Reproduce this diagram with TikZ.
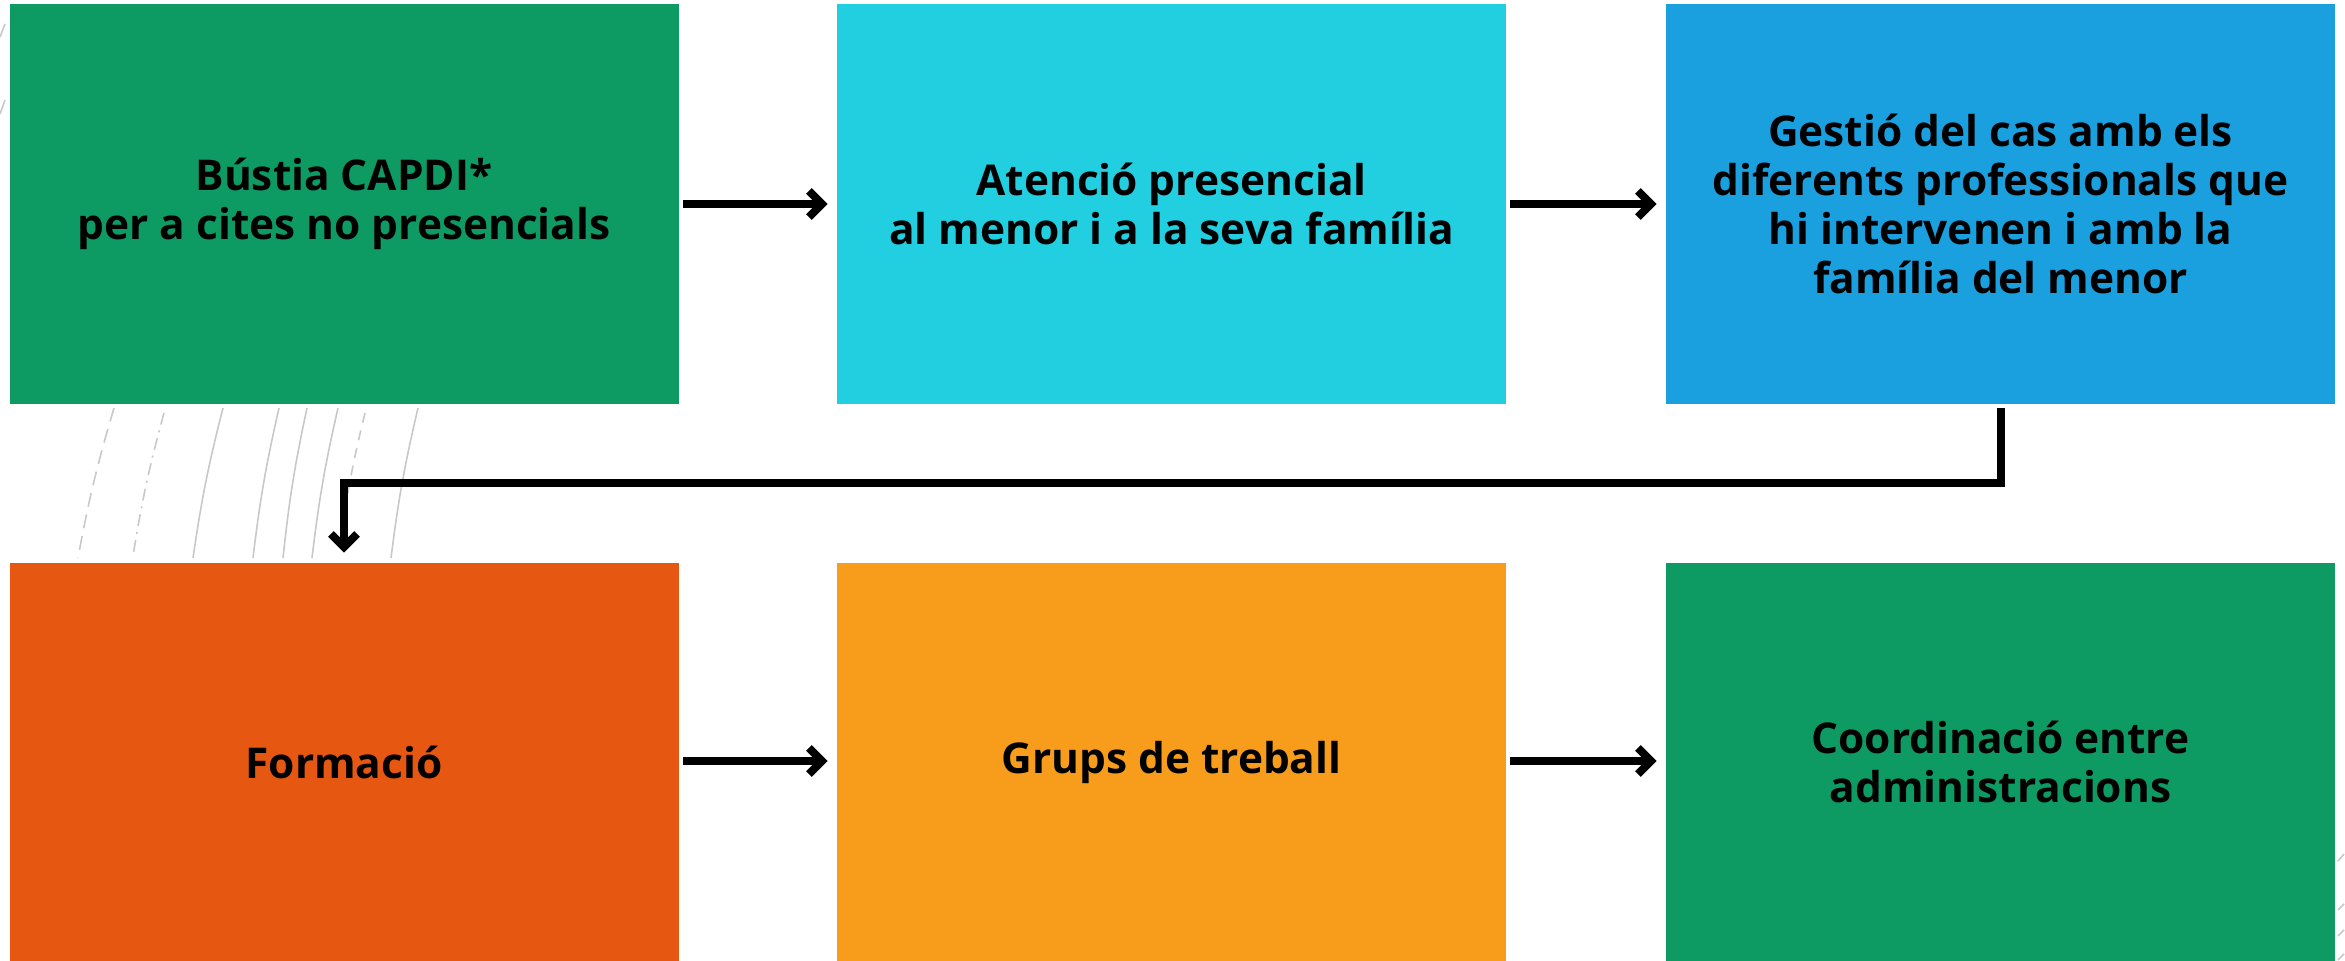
\documentclass[tikz,border=0pt]{standalone}
\usepackage{fontspec}
\setmainfont{Open Sans}
\usetikzlibrary{arrows.meta}
\definecolor{cgreen}{HTML}{0E9A63}
\definecolor{ccyan}{HTML}{22CFE0}
\definecolor{cblue}{HTML}{1A9FDF}
\definecolor{corange}{HTML}{E65812}
\definecolor{cyellow}{HTML}{F79D1B}
\definecolor{arcgray}{HTML}{C8C8C8}
\tikzset{
  stepbox/.style={inner sep=0pt, minimum width=334.5pt, align=center,
    font=\bfseries\fontsize{21.2pt}{24.5pt}\selectfont, text=black},
  toprow/.style={stepbox, minimum height=200pt},
  botrow/.style={stepbox, minimum height=199pt},
  conn/.style={line width=4pt, draw=black, line join=miter,
    -{Straight Barb[length=6.5pt,width=13pt,line width=4pt]}},
  arcline/.style={draw=arcgray, line width=0.8pt},
}
\begin{document}
\begin{tikzpicture}[x=0.5pt,y=-0.5pt]
\useasboundingbox (0,0) rectangle (2345,961);
% decorative background arcs
\draw[arcline, dash pattern=on 7pt off 4pt] (114,408) to[bend right=3] (78,558);
\draw[arcline, dash pattern=on 6pt off 3pt on 1pt off 3pt] (164,413) to[bend right=3] (133,556);
\draw[arcline] (223,408) to[bend right=3] (193,558);
\draw[arcline] (279,408) to[bend right=3] (253,558);
\draw[arcline] (307,408) to[bend right=3] (283,558);
\draw[arcline] (338,408) to[bend right=3] (312,558);
\draw[arcline, dash pattern=on 5pt off 4pt] (365,413) to[bend right=3] (340,545);
\draw[arcline] (418,408) to[bend right=3] (391,558);
\draw[arcline] (0,37) -- (5,24);
\draw[arcline] (0,114) -- (5,100);
\draw[arcline] (2338,861) -- (2344,854);
\draw[arcline] (2338,910) -- (2344,904);
\draw[arcline] (2338,936) -- (2344,930);
\draw[arcline] (2338,960) -- (2344,954);
% boxes
\node[toprow, fill=cgreen] (b1) at (344,204) {Bústia CAPDI*\\per a cites no presencials};
\node[toprow, fill=ccyan] (b2) at (1171.5,204) {Atenció presencial\\al menor i a la seva família};
\node[toprow, fill=cblue] (b3) at (2000.5,204) {Gestió del cas amb els\\diferents professionals que\\hi intervenen i amb la\\família del menor};
\node[botrow, fill=corange] (b4) at (344,762) {Formació};
\node[botrow, fill=cyellow] (b5) at (1171.5,762) {Grups de treball};
\node[botrow, fill=cgreen] (b6) at (2000.5,762) {Coordinació entre\\administracions};
% connectors
\draw[conn, shorten <=2pt, shorten >=4.5pt] (b1.east) -- (b2.west);
\draw[conn, shorten <=2pt, shorten >=4.5pt] (b2.east) -- (b3.west);
\draw[conn, shorten <=2pt, shorten >=4.5pt] ([yshift=0.5pt]b4.east) -- ([yshift=0.5pt]b5.west);
\draw[conn, shorten <=2pt, shorten >=4.5pt] ([yshift=0.5pt]b5.east) -- ([yshift=0.5pt]b6.west);
\draw[conn, shorten <=2pt, shorten >=5pt] (b3.south) -- ++(0,79) -| (b4.north);
\end{tikzpicture}
\end{document}
